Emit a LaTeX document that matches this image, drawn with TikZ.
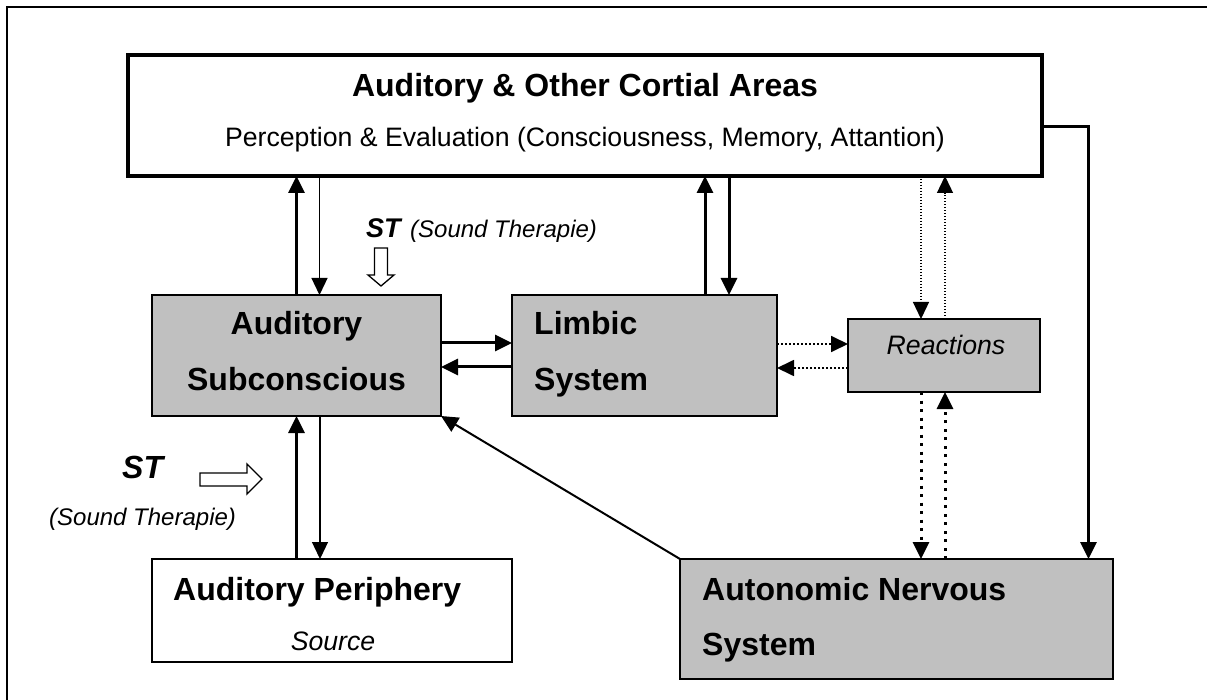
\documentclass[tikz,border=0pt]{standalone}
\usepackage{fontspec}
\setmainfont{Liberation Sans}
\usetikzlibrary{arrows.meta}
\definecolor{boxgray}{RGB}{192,192,192}
\tikzset{
  box/.style={draw, line width=2pt, anchor=north west, inner sep=0pt, outer sep=0pt},
  graybox/.style={box, fill=boxgray},
  head/.style={font=\fontsize{32}{38}\selectfont\bfseries, inner sep=0pt},
  plain/.style={font=\fontsize{26.67}{32}\selectfont, inner sep=0pt},
  note/.style={font=\fontsize{24}{29}\selectfont\itshape, inner sep=0pt},
  thickarrow/.style={line width=3pt},
  thinarrow/.style={line width=1.3pt},
  fine dots/.style={line width=1.3pt, dash pattern=on 1.3pt off 1.7pt},
  mid dots/.style={line width=1.8pt, dash pattern=on 1.8pt off 2.2pt},
  big dots/.style={line width=3pt, dash pattern=on 3pt off 5.5pt},
  hollow/.style={draw, fill=white, line width=1.3pt}
}
\begin{document}
\begin{tikzpicture}[x=1pt,y=-1pt,>={Triangle[length=17pt,width=16pt]}]
\useasboundingbox (0,0) rectangle (1207,700);
\draw[line width=1.3pt] (7,700) -- (7,7) -- (1207,7);
% boxes
\node[box, line width=3.5pt, minimum width=914pt, minimum height=121pt] (ctx) at (128,55) {};
\node[graybox, minimum width=289pt, minimum height=121pt] (sub) at (152,295) {};
\node[graybox, minimum width=265pt, minimum height=121pt] (lim) at (512,295) {};
\node[graybox, minimum width=192pt, minimum height=73pt] (rea) at (848,319) {};
\node[box, minimum width=360pt, minimum height=103pt] (per) at (152,559) {};
\node[graybox, minimum width=433pt, minimum height=120pt] (ans) at (680,559) {};
% texts
\node[head, anchor=base] (ctxA) at (585,97) {Auditory \& Other Cortial Areas};
\node[plain, anchor=base] (ctxB) at (585,147) {Perception \& Evaluation (Consciousness, Memory, Attantion)};
\node[head, anchor=base] (subA) at (296.5,335) {Auditory};
\node[head, anchor=base] (subB) at (296.5,390) {Subconscious};
\node[head, anchor=base west] (limA) at (534,335) {Limbic};
\node[head, anchor=base west] (limB) at (534,390) {System};
\node[plain, anchor=base] (reaA) at (946,355) {\itshape Reactions};
\node[head, anchor=base west] (perA) at (173,600) {Auditory Periphery};
\node[plain, anchor=base] (perB) at (333,650) {\itshape Source};
\node[head, anchor=base west] (ansA) at (702,600) {Autonomic Nervous};
\node[head, anchor=base west] (ansB) at (702,655) {System};
% sound therapy
\node[font=\fontsize{27}{32}\selectfont\bfseries\itshape, inner sep=0pt, anchor=base west] (stA) at (366,238) {ST};
\node[note, anchor=base west] (stAn) at (410,238) {(Sound Therapie)};
\node[head, font=\fontsize{32}{38}\selectfont\bfseries\itshape, anchor=base west] (stB) at (122,478) {ST};
\node[note, anchor=base west] (stBn) at (49,525) {(Sound Therapie)};
\draw[hollow] (374.5,248) -- (387.5,248) -- (387.5,275) -- (394,275) -- (381,286) -- (368,275) -- (374.5,275) -- cycle;
\draw[hollow] (200,473) -- (247,473) -- (247,464) -- (262,479) -- (247,494) -- (247,486) -- (200,486) -- cycle;
% connections
\draw[thickarrow, ->] (sub.north) -- (sub.north |- ctx.south);
\draw[thinarrow, ->] ([xshift=23pt]sub.north |- ctx.south) -- ([xshift=23pt]sub.north);
\draw[thickarrow, ->] ([xshift=60.5pt]lim.north) -- ([xshift=60.5pt]lim.north |- ctx.south);
\draw[thickarrow, ->] ([xshift=84.5pt]lim.north |- ctx.south) -- ([xshift=84.5pt]lim.north);
\draw[fine dots, ->] ([xshift=-23pt]rea.north |- ctx.south) -- ([xshift=-23pt]rea.north);
\draw[fine dots, ->] ([xshift=1pt]rea.north) -- ([xshift=1pt]rea.north |- ctx.south);
\draw[mid dots, ->] ([yshift=11.5pt]lim.east) -- ([yshift=11.5pt]lim.east -| rea.west);
\draw[mid dots, ->] ([yshift=-12.5pt]lim.east -| rea.west) -- ([yshift=-12.5pt]lim.east);
\draw[thickarrow, ->] ([yshift=12.5pt]sub.east) -- ([yshift=12.5pt]sub.east -| lim.west);
\draw[thickarrow, ->] ([yshift=-11.5pt]sub.east -| lim.west) -- ([yshift=-11.5pt]sub.east);
\draw[big dots, ->] ([xshift=-23pt]rea.south) -- ([xshift=-23pt]rea.south |- ans.north);
\draw[big dots, ->] ([xshift=1pt]rea.south |- ans.north) -- ([xshift=1pt]rea.south);
\draw[thickarrow, ->] (sub.south |- per.north) -- (sub.south);
\draw[thinarrow, ->] ([xshift=23.5pt]sub.south) -- ([xshift=23.5pt]sub.south |- per.north);
\draw[thickarrow, ->] ([yshift=-11.5pt]ctx.east) -| ([xshift=-24.5pt]ans.north east);
\draw[line width=2pt, ->] (ans.north west) -- (sub.south east);
\end{tikzpicture}
\end{document}
